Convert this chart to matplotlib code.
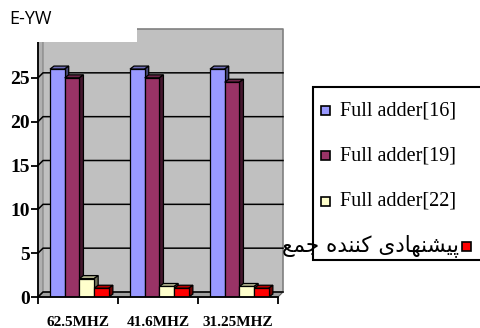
#!/usr/bin/env python3

import matplotlib

matplotlib.use("Agg")
import matplotlib.pyplot as plt
from matplotlib.colors import to_rgb
from matplotlib.patches import Polygon, Rectangle

# Power per clock frequency, in units of E-YW
categories = ["62.5MHZ", "41.6MHZ", "31.25MHZ"]
series_names = [
    "Full adder[16]",
    "Full adder[19]",
    "Full adder[22]",
    # "proposed adder" in Arabic presentation forms, already in visual order,
    # since the text renderer does no shaping or bidi reordering
    "\uFECA\uFEE4\uFE9F \uFEE9\uFEAA\uFEE8\uFEE8\uFB90 "
    "\uFBFC\uFEA9\uFE8E\uFEEC\uFEE8\uFEB8\uFBFF\uFB58",
]
full_adder_16 = [26.0, 26.0, 26.0]
full_adder_19 = [25.0, 25.0, 24.5]
full_adder_22 = [2.1, 1.2, 1.2]
proposed_adder = [1.0, 1.0, 1.0]
y_ticks = [0, 5, 10, 15, 20, 25]
unit_label = "E-YW"

series_values = [full_adder_16, full_adder_19, full_adder_22, proposed_adder]
series_colors = ["#9999FF", "#993366", "#FFFFCC", "#FF0000"]

FIG_W, FIG_H = 481, 328
SERIF = "Liberation Serif"


def shade(color, factor):
    r, g, b = to_rgb(color)
    return (r * factor, g * factor, b * factor)


def px_box(x0, y0, x1, y1):
    """Figure-fraction rectangle from pixel coords measured from the top-left."""
    return [x0 / FIG_W, 1 - y1 / FIG_H, (x1 - x0) / FIG_W, (y1 - y0) / FIG_H]


def main():
    fig = plt.figure(figsize=(FIG_W / 100, FIG_H / 100), dpi=100)
    ax = fig.add_axes(px_box(38, 34, 278, 297))
    ax.set_xlim(0, len(categories))
    ax.set_ylim(0, 30)
    ax.patch.set_visible(False)

    # data units per pixel, used for the fake depth of walls and bars
    sx = len(categories) / 240.0
    sy = 30.0 / 263.0
    wdx, wdy = 5 * sx, 5 * sy
    bdx, bdy = 4 * sx, 3 * sy
    n = len(categories)

    wall = Rectangle((wdx, wdy), n, 30, facecolor="#C0C0C0", edgecolor="none",
                     zorder=0.5, clip_on=False)
    ax.add_patch(wall)
    ax.plot([wdx, n + wdx, n + wdx], [30 + wdy, 30 + wdy, wdy], color="#808080",
            lw=1.2, zorder=0.7, clip_on=False)
    ax.add_patch(Polygon([(0, 0), (wdx, wdy), (wdx, 30 + wdy), (0, 30)],
                         closed=True, facecolor="#B0B0B0", edgecolor="#808080",
                         lw=0.8, zorder=0.6, clip_on=False))
    ax.add_patch(Polygon([(0, 0), (n, 0), (n + wdx, wdy), (wdx, wdy)],
                         closed=True, facecolor="#A0A0A0", edgecolor="#606060",
                         lw=0.8, zorder=0.6, clip_on=False))
    for v in range(0, 30, 5):
        ax.plot([0, wdx, n + wdx], [v, v + wdy, v + wdy], color="black",
                lw=1.1, zorder=0.8, clip_on=False)

    width = 0.184
    start = 0.15
    for i, (values, color) in enumerate(zip(series_values, series_colors)):
        lefts = [g + start + i * width for g in range(n)]
        z = 2 + i
        ax.bar(lefts, values, width=width, align="edge", color=color,
               edgecolor="black", lw=0.9, zorder=z + 0.5)
        for xl, v in zip(lefts, values):
            top = [(xl, v), (xl + bdx, v + bdy), (xl + width + bdx, v + bdy),
                   (xl + width, v)]
            side = [(xl + width, 0), (xl + width, v),
                    (xl + width + bdx, v + bdy), (xl + width + bdx, bdy)]
            ax.add_patch(Polygon(top, closed=True, facecolor=shade(color, 0.72),
                                 edgecolor="black", lw=0.9, zorder=z))
            ax.add_patch(Polygon(side, closed=True, facecolor=shade(color, 0.45),
                                 edgecolor="black", lw=0.9, zorder=z))

    for name in ("top", "right"):
        ax.spines[name].set_visible(False)
    ax.spines["left"].set_linewidth(1.3)
    ax.spines["bottom"].set_linewidth(1.3)
    ax.spines["left"].set_zorder(10)
    ax.spines["bottom"].set_zorder(10)

    ax.set_yticks(y_ticks)
    ax.set_yticklabels([str(t) for t in y_ticks], fontfamily=SERIF,
                       fontweight="bold", fontsize=14)
    ax.tick_params(axis="y", length=5, width=1.3, pad=1)

    ax.set_xticks(range(n + 1))
    ax.set_xticklabels([])
    ax.tick_params(axis="x", which="major", length=5, width=1.3)
    ax.set_xticks([g + 0.5 for g in range(n)], minor=True)
    ax.set_xticklabels(categories, minor=True, fontfamily=SERIF,
                       fontweight="bold", fontsize=11)
    ax.tick_params(axis="x", which="minor", length=0, pad=14)

    # white label box over the top-left corner of the wall
    fig.add_artist(Rectangle((0, 1 - 42 / FIG_H), 137 / FIG_W, 42 / FIG_H,
                             transform=fig.transFigure, facecolor="white",
                             edgecolor="none", zorder=5))
    fig.text(9 / FIG_W, 1 - 24 / FIG_H, unit_label, family="Open Sans",
             fontsize=13, va="baseline", ha="left", zorder=6)

    # legend frame runs off the right edge
    x0, y0 = 313, 87
    fig.add_artist(Rectangle((x0 / FIG_W, 1 - 260 / FIG_H), 200 / FIG_W,
                             (260 - y0) / FIG_H, transform=fig.transFigure,
                             facecolor="white", edgecolor="black", lw=1.5,
                             zorder=5))
    rows = [111, 156, 201, 246]
    sq = 9
    for k, (name, color) in enumerate(zip(series_names, series_colors)):
        yc = rows[k]
        if k < 3:
            xc = 326
            fig.text(340 / FIG_W, 1 - yc / FIG_H, name, family=SERIF,
                     fontsize=14.5, va="center", ha="left", zorder=6)
        else:
            xc = 467
            fig.text(459 / FIG_W, 1 - yc / FIG_H, name,
                     family=["DejaVu Sans"], fontsize=15.5, va="center",
                     ha="right", zorder=6)
        fig.add_artist(Rectangle(((xc - sq / 2) / FIG_W, 1 - (yc + sq / 2) / FIG_H),
                                 sq / FIG_W, sq / FIG_H,
                                 transform=fig.transFigure, facecolor=color,
                                 edgecolor="black", lw=1.2, zorder=6))

    fig.savefig("out.png", dpi=100)


if __name__ == "__main__":
    main()
